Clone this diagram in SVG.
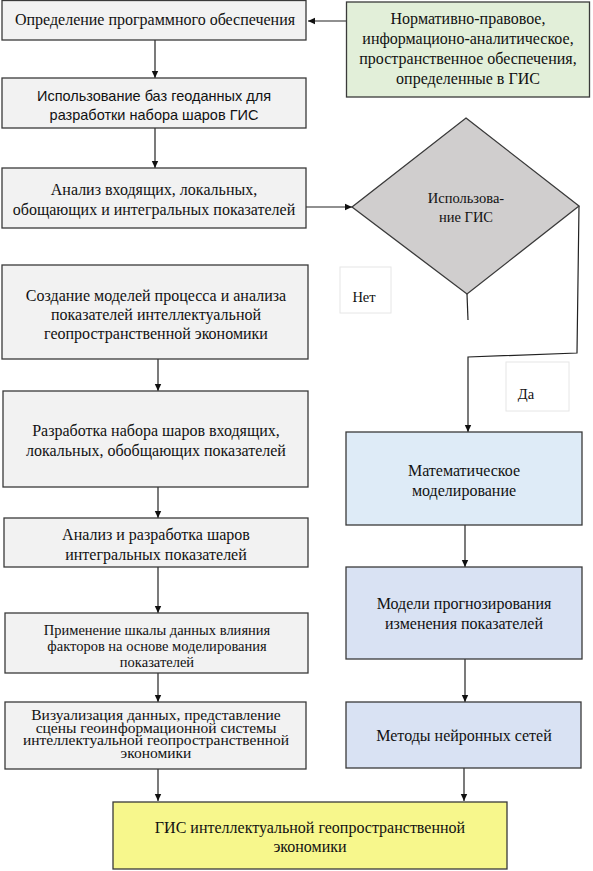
<svg xmlns="http://www.w3.org/2000/svg" width="593" height="871" viewBox="0 0 593 871">
<style>
.box{stroke:#3a3a3a;stroke-width:1.3}
.g{fill:#f2f2f2}
.gr{fill:#e2efd9}
.b1{fill:#deebf7}
.b2{fill:#d9e2f3}
.y{fill:#f7f78c}
.lbl{fill:#ffffff;stroke:#e6e6e6;stroke-width:1}
.t{font-family:"Liberation Serif","Times New Roman",serif;font-size:16px;fill:#111;text-anchor:middle}
.sm{font-size:14.5px}
.s{font-family:"Liberation Sans",Arial,sans-serif;font-size:14.5px;fill:#111;text-anchor:middle}
.c{fill:none;stroke:#222;stroke-width:1.2}
</style>
<defs>
<marker id="ah" markerUnits="userSpaceOnUse" markerWidth="8" markerHeight="8" refX="7" refY="4" orient="auto">
<path d="M0,0.8 L7,4 L0,7.2 Z" fill="#111"/>
</marker>
</defs>
<g id="connectors">
<line class="c" x1="346" y1="21" x2="308" y2="21" marker-end="url(#ah)"/>
<line class="c" x1="155" y1="40" x2="155" y2="78" marker-end="url(#ah)"/>
<line class="c" x1="155" y1="128" x2="155" y2="168" marker-end="url(#ah)"/>
<line class="c" x1="306" y1="207" x2="352" y2="207" marker-end="url(#ah)"/>
<polyline class="c" points="467,294 468,320"/>
<polyline class="c" points="579,206 577,353 468,357 468,432" marker-end="url(#ah)"/>
<line class="c" x1="465" y1="525" x2="465" y2="567" marker-end="url(#ah)"/>
<line class="c" x1="465" y1="659" x2="465" y2="702" marker-end="url(#ah)"/>
<line class="c" x1="464" y1="768" x2="464" y2="801" marker-end="url(#ah)"/>
<line class="c" x1="158" y1="359" x2="158" y2="391" marker-end="url(#ah)"/>
<line class="c" x1="158" y1="487" x2="158" y2="518" marker-end="url(#ah)"/>
<line class="c" x1="158" y1="567" x2="158" y2="613" marker-end="url(#ah)"/>
<line class="c" x1="158" y1="673" x2="158" y2="702" marker-end="url(#ah)"/>
<line class="c" x1="158" y1="769" x2="158" y2="801" marker-end="url(#ah)"/>
</g>
<g id="n1"><rect class="box g" x="2" y="0.5" width="304" height="39.5"/>
<text class="t" x="155" y="25">Определение программного обеспечения</text></g>
<g id="n_green"><rect class="box gr" x="346.5" y="2" width="243" height="95"/>
<text class="t" x="468" y="24">Нормативно-правовое,</text>
<text class="t" x="468" y="44">информационо-аналитическое,</text>
<text class="t" x="468" y="64">пространственное обеспечения,</text>
<text class="t" x="468" y="84">определенные в ГИС</text></g>
<g id="n2"><rect class="box g" x="2" y="78" width="304" height="50"/>
<text class="s" x="154" y="101">Использование баз геоданных для</text>
<text class="s" x="154" y="120">разработки набора шаров ГИС</text></g>
<g id="n3"><rect class="box g" x="2" y="168" width="304" height="60"/>
<text class="t" x="154" y="195">Анализ входящих, локальных,</text>
<text class="t" x="154" y="215">обощающих и интегральных показателей</text></g>
<g id="n_diamond"><polygon class="box" fill="#d0cece" points="466,118 579,206 467,294 352,207"/>
<text class="t sm" x="466" y="203">Использова-</text>
<text class="t sm" x="466" y="222">ние ГИС</text></g>
<g id="n_net"><rect class="lbl" x="340" y="267" width="51" height="46"/>
<text class="t sm" x="364" y="302">Нет</text></g>
<g id="n_da"><rect class="lbl" x="506" y="362" width="63" height="49"/>
<text class="t sm" x="526" y="399">Да</text></g>
<g id="n4"><rect class="box g" x="2" y="265" width="306" height="94"/>
<text class="t" x="156" y="301">Создание моделей процесса и анализа</text>
<text class="t" x="156" y="320">показателей интеллектуальной</text>
<text class="t" x="156" y="339">геопространственной экономики</text></g>
<g id="n5"><rect class="box g" x="3" y="391" width="305" height="96"/>
<text class="t" x="156" y="436">Разработка набора шаров входящих,</text>
<text class="t" x="156" y="456">локальных, обобщающих показателей</text></g>
<g id="n6"><rect class="box g" x="4" y="518" width="304" height="49"/>
<text class="t" x="156" y="540">Анализ и разработка шаров</text>
<text class="t" x="156" y="560">интегральных показателей</text></g>
<g id="n7"><rect class="box g" x="5" y="613" width="303" height="60"/>
<text class="t sm" x="157" y="635">Применение шкалы данных влияния</text>
<text class="t sm" x="157" y="651">факторов на основе моделирования</text>
<text class="t sm" x="157" y="667">показателей</text></g>
<g id="n8"><rect class="box g" x="5" y="702" width="301" height="67"/>
<text class="t" x="156" y="720" style="font-size:15.5px">Визуализация данных, представление</text>
<text class="t" x="156" y="732.5" style="font-size:15.5px">сцены геоинформационной системы</text>
<text class="t" x="156" y="745" style="font-size:15.5px">интеллектуальной геопространственной</text>
<text class="t" x="156" y="757.5" style="font-size:15.5px">экономики</text></g>
<g id="n_math"><rect class="box b1" x="346" y="432" width="236" height="93"/>
<text class="t" x="464" y="476">Математическое</text>
<text class="t" x="464" y="496">моделирование</text></g>
<g id="n_model"><rect class="box b2" x="346" y="567" width="236" height="92"/>
<text class="t" x="464" y="609">Модели прогнозирования</text>
<text class="t" x="464" y="629">изменения показателей</text></g>
<g id="n_neur"><rect class="box b2" x="346" y="702" width="235" height="66"/>
<text class="t" x="464" y="741">Методы нейронных сетей</text></g>
<g id="n_final"><rect class="box y" x="113" y="802" width="394" height="67"/>
<text class="t" x="310" y="833">ГИС интеллектуальной геопространственной</text>
<text class="t" x="310" y="852">экономики</text></g>
</svg>
